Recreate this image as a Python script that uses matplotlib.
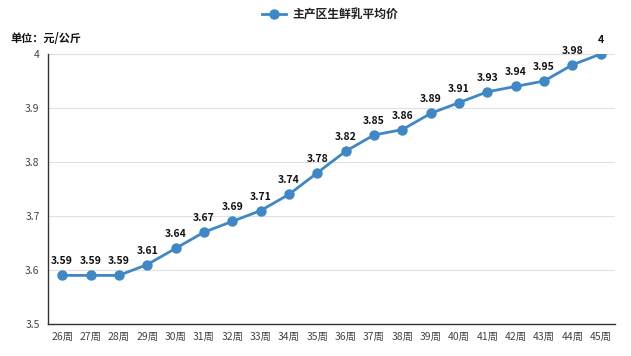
import matplotlib
matplotlib.use("Agg")
import matplotlib.pyplot as plt

plt.rcParams['font.family'] = ['Noto Sans CJK SC', 'DejaVu Sans']

weeks = ["26周", "27周", "28周", "29周", "30周", "31周", "32周", "33周", "34周", "35周",
         "36周", "37周", "38周", "39周", "40周", "41周", "42周", "43周", "44周", "45周"]
prices = [3.59, 3.59, 3.59, 3.61, 3.64, 3.67, 3.69, 3.71, 3.74, 3.78,
          3.82, 3.85, 3.86, 3.89, 3.91, 3.93, 3.94, 3.95, 3.98, 4]
labels = ["3.59", "3.59", "3.59", "3.61", "3.64", "3.67", "3.69", "3.71", "3.74", "3.78",
          "3.82", "3.85", "3.86", "3.89", "3.91", "3.93", "3.94", "3.95", "3.98", "4"]
yticks = [3.5, 3.6, 3.7, 3.8, 3.9, 4.0]
ytick_labels = ["3.5", "3.6", "3.7", "3.8", "3.9", "4"]

color = "#3f88c5"
fig = plt.figure(figsize=(6.31, 3.56), dpi=100)
ax = fig.add_axes([48/631, 32/356, (615-48)/631, (324-54)/356])

x = list(range(len(weeks)))
ax.plot(x, prices, color=color, linewidth=2, marker='o', markersize=6.5,
        label="主产区生鲜乳平均价", zorder=3)
for xi, yi, lab in zip(x, prices, labels):
    ax.annotate(lab, (xi, yi), xytext=(0, 6.5), textcoords='offset points',
                ha='center', va='bottom', fontsize=7.5, fontweight='bold', color='#111111')

ax.set_xlim(-0.5, len(weeks) - 0.5)
ax.set_ylim(3.5, 4.0)
ax.set_xticks(x)
ax.set_xticklabels(weeks, fontsize=7.5, color='#444444')
ax.set_yticks(yticks)
ax.set_yticklabels(ytick_labels, fontsize=7.5, color='#444444')
ax.tick_params(axis='both', length=0, pad=6)
ax.grid(axis='y', color='#e0e0e0', linewidth=0.8)
ax.set_axisbelow(True)
for s in ['top', 'right']:
    ax.spines[s].set_visible(False)
ax.spines['left'].set_color('#333333')
ax.spines['bottom'].set_color('#333333')
ax.spines['left'].set_linewidth(1)
ax.spines['bottom'].set_linewidth(1)

fig.text(10/631, 1 - 38/356, "单位：元/公斤", fontsize=8, fontweight='bold',
         va='center', ha='left', color='#111111')
leg = fig.legend(loc='center', bbox_to_anchor=(330/631, 1 - 15/356), frameon=False,
                 fontsize=8.5, handlelength=2, handletextpad=0.5)
for t in leg.get_texts():
    t.set_fontweight('bold')
    t.set_color('#222222')

fig.savefig("out.png", dpi=100)
